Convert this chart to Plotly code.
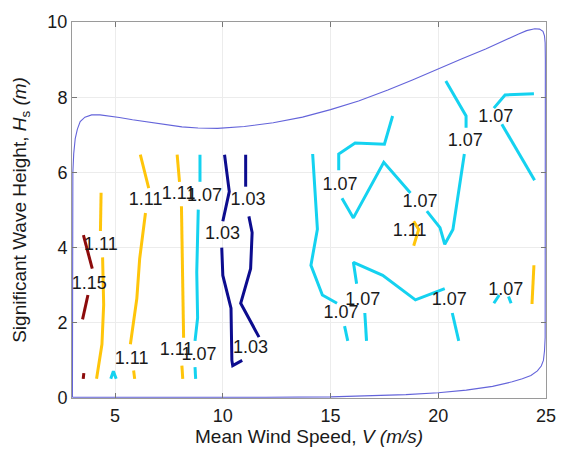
import plotly.graph_objects as go

# Axis ticks
wind_ticks = [5, 10, 15, 20, 25]
wave_ticks = [0, 2, 4, 6, 8, 10]

# Contour polylines (wind speed V, wave height Hs); None separates segments
v_115 = [3.53, 3.70, 3.94, None, 3.74, 3.49, None, 3.52, 3.55]
h_115 = [4.33, 3.95, 3.44, None, 2.74, 2.09, None, 0.51, 0.66]

v_111 = [4.35, 4.32, None, 4.42, 4.47, 4.39, 4.14, None,
         6.17, 6.56, None, 6.41, 6.14, 6.01, 5.71, None, 5.86, 5.91, None,
         7.88, 7.99, None, 8.08, 8.18, 8.18, None, 8.10, 8.14, None,
         18.86, 19.09, 18.86, None,
         24.44, 24.35]
h_111 = [5.46, 4.44, None, 3.74, 2.48, 1.43, 0.51, None,
         6.47, 5.58, None, 4.92, 3.70, 2.65, 1.43, None, 0.73, 0.51, None,
         6.47, 5.75, None, 5.10, 2.48, 1.60, None, 0.86, 0.51, None,
         4.70, 4.48, 4.05, None,
         3.53, 2.50]

v_107 = [4.80, 4.92, 5.05, None,
         8.94, 8.94, None, 8.86, 8.79, 8.83, 8.71, None, 8.71, 8.74, None,
         14.17, 14.39, 14.09, 14.62, 15.30, None, 15.65, 15.80, None,
         17.88, 17.50, 16.14, 15.38, 15.38, None,
         15.53, 16.06, 17.47, 18.71, None,
         19.47, 20.08, 20.30, 20.68, 21.21, None,
         21.29, 21.29, 20.35, None,
         22.58, 23.10, 24.44, None, 22.95, 24.47, None,
         16.67, 16.59, None, 16.21, 16.06, 17.42, 18.94, 20.30, None,
         20.65, 20.95, None,
         22.58, 22.83, None, 23.26, 23.38]
h_107 = [0.51, 0.71, 0.51, None,
         6.47, 5.75, None, 5.01, 3.35, 2.13, 1.52, None, 0.82, 0.51, None,
         6.49, 4.49, 3.53, 2.74, 2.52, None, 1.91, 1.52, None,
         7.50, 6.75, 6.78, 6.49, 6.06, None,
         5.31, 4.79, 6.27, 5.45, None,
         4.97, 4.53, 4.09, 4.48, 6.49, None,
         7.19, 7.50, 8.43, None,
         7.71, 8.06, 8.09, None, 7.28, 5.79, None,
         1.52, 2.26, None, 3.04, 3.61, 3.26, 2.61, 2.91, None,
         2.26, 1.52, None,
         2.52, 2.74, None, 2.70, 2.52]

v_103 = [10.08, 10.30, 10.00, None, 9.95, 10.00, 10.38, 10.42, 10.46, 10.90, None,
         11.06, 11.06, None, 11.21, 11.36, 11.29, 10.83, 11.68]
h_103 = [6.47, 5.49, 4.70, None, 4.00, 3.26, 2.39, 1.00, 0.86, 1.00, None,
         6.47, 5.62, None, 4.83, 4.40, 3.44, 2.52, 1.62]

# Inline contour labels
label_v = [4.34, 3.80, 6.42, 7.95, 9.15, 11.17, 9.99, 5.77, 7.85, 8.89, 11.28,
           22.67, 21.25, 15.44, 19.15, 18.67, 16.50, 15.49, 20.51, 23.13]
label_h = [4.06, 3.03, 5.24, 5.42, 5.37, 5.25, 4.36, 1.03, 1.26, 1.13, 1.31,
           7.47, 6.82, 5.64, 5.21, 4.42, 2.60, 2.24, 2.60, 2.86]
label_text = ["1.11", "1.15", "1.11", "1.11", "1.07", "1.03", "1.03", "1.11", "1.11",
              "1.07", "1.03", "1.07", "1.07", "1.07", "1.07", "1.11", "1.07", "1.07",
              "1.07", "1.07"]

# Environmental boundary contour (closed curve)
bound_v = [3.02, 3.02, 3.04, 3.08, 3.15, 3.25, 3.38, 3.60, 3.91, 4.30, 4.60, 5.20,
           5.81, 6.60, 7.33, 8.10, 8.85, 9.76, 11.00, 12.34, 13.70, 15.00, 16.30,
           17.66, 18.80, 20.00, 21.10, 22.20, 23.00, 23.73, 24.10, 24.48, 24.70,
           24.86, 24.93, 24.96, 24.97, 24.97, 24.96, 24.93, 24.88, 24.78, 24.60,
           24.30, 23.90, 23.43, 22.52, 21.30, 20.00, 18.50, 17.00, 15.00, 12.00,
           10.00, 3.02]
bound_h = [0.02, 5.50, 6.00, 6.50, 6.90, 7.15, 7.35, 7.47, 7.53, 7.53, 7.51, 7.46,
           7.40, 7.33, 7.27, 7.21, 7.18, 7.17, 7.22, 7.32, 7.47, 7.67, 7.90,
           8.19, 8.46, 8.76, 9.02, 9.28, 9.50, 9.68, 9.77, 9.82, 9.81,
           9.75, 9.63, 9.45, 9.00, 2.00, 1.60, 1.25, 1.00, 0.85, 0.72,
           0.60, 0.51, 0.43, 0.31, 0.21, 0.14, 0.09, 0.06, 0.03, 0.02,
           0.02, 0.02]

FONT = "Liberation Sans, Arial, sans-serif"

fig = go.Figure()

fig.add_trace(go.Scatter(x=bound_v, y=bound_h, mode="lines",
                         line=dict(color="rgb(100,100,218)", width=1.1),
                         hoverinfo="skip"))

for xs, ys, col in [(v_115, h_115, "#8c0b0b"),
                    (v_111, h_111, "#ffc50a"),
                    (v_107, h_107, "#14d2f0"),
                    (v_103, h_103, "#0c0c8e")]:
    fig.add_trace(go.Scatter(x=xs, y=ys, mode="lines", connectgaps=False,
                             line=dict(color=col, width=3), hoverinfo="skip"))

fig.add_trace(go.Scatter(x=label_v, y=label_h, mode="text", text=label_text,
                         textposition="middle center",
                         textfont=dict(family=FONT, size=18, color="#1a1a1a"),
                         hoverinfo="skip", cliponaxis=False))

axis_common = dict(showline=True, linecolor="#9a9a9a", linewidth=1, mirror="ticks",
                   ticks="inside", ticklen=5, tickcolor="#777777",
                   showgrid=True, gridcolor="#ececec", gridwidth=1, zeroline=False,
                   tickfont=dict(family=FONT, size=18, color="#1a1a1a"))

fig.update_xaxes(range=[3, 25], tickvals=wind_ticks, ticklabelstandoff=1, **axis_common)
fig.update_yaxes(range=[0, 10], tickvals=wave_ticks, **axis_common)

fig.add_annotation(text="Mean Wind Speed, <i>V</i> <i>(m/s)</i>", xref="paper", yref="paper",
                   x=0.5, y=-0.102, xanchor="center", yanchor="middle", showarrow=False,
                   font=dict(family=FONT, size=19, color="#1a1a1a"))
fig.add_annotation(text="Significant Wave Height, <i>H</i><sub>s</sub> <i>(m)</i>",
                   xref="paper", yref="paper", x=-0.108, y=0.5, xanchor="center",
                   yanchor="middle", textangle=-90, showarrow=False,
                   font=dict(family=FONT, size=19, color="#1a1a1a"))

fig.update_layout(width=568, height=451, margin=dict(l=72, r=14, t=16, b=53),
                  paper_bgcolor="white", plot_bgcolor="white", showlegend=False)

fig.write_html("out.html")
